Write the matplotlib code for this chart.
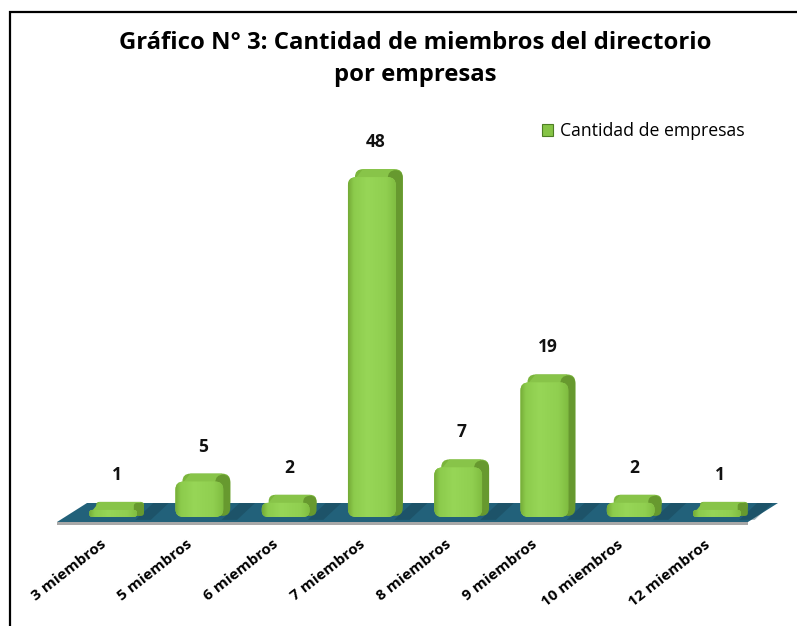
import numpy as np
import matplotlib.pyplot as plt
from matplotlib.patches import FancyBboxPatch, Polygon, Patch, Rectangle
from matplotlib.colors import LinearSegmentedColormap
from matplotlib.transforms import ScaledTranslation

# datos del gráfico
categorias = ["3 miembros", "5 miembros", "6 miembros", "7 miembros",
              "8 miembros", "9 miembros", "10 miembros", "12 miembros"]
empresas = [1, 5, 2, 48, 7, 19, 2, 1]
titulo = "Gráfico N° 3: Cantidad de miembros del directorio\npor empresas"
serie = "Cantidad de empresas"

plt.rcParams["font.family"] = ["Open Sans", "DejaVu Sans"]

W, H = 797, 626
fig = plt.figure(figsize=(W / 100, H / 100), dpi=100)

# posición del área de trazado (en píxeles)
ax_l, ax_r, ax_b, ax_t = 57.0, 773.0, 517.0, 120.5
ax = fig.add_axes([ax_l / W, 1 - ax_b / H, (ax_r - ax_l) / W, (ax_b - ax_t) / H])
x = np.arange(len(categorias))
xmin, xmax = -0.65, len(categorias) - 0.35
ymax = 56
ax.set_xlim(xmin, xmax)
ax.set_ylim(0, ymax)
sx = (ax_r - ax_l) / (xmax - xmin)   # px por unidad x
sy = (ax_b - ax_t) / ymax            # px por unidad y

# piso (plano de la base)
fy = -5 / sy
fdx, fdy = 30 / sx, 19 / sy
fx0, fx1 = xmin, len(categorias) - 1 + 0.36
ax.add_patch(Polygon([(fx0, fy - 2.5 / sy), (fx1, fy - 2.5 / sy), (fx1, fy), (fx0, fy)],
                     closed=True, fc="#A8A8A8", ec="none", clip_on=False, zorder=1))
ax.add_patch(Polygon([(fx0, fy), (fx1, fy), (fx1 + fdx, fy + fdy), (fx0 + fdx, fy + fdy)],
                     closed=True, fc="#22617A", ec="none", clip_on=False, zorder=1))

# barras
ancho = 0.555
bars = ax.bar(x, empresas, width=ancho, color="#92D050", zorder=2, label=serie)
dx, dy = 7 / sx, 8 / sy
aspecto = sx / sy
grad = LinearSegmentedColormap.from_list(
    "frente", [(0, "#74AA36"), (0.12, "#8CCB4C"), (0.4, "#97D657"),
               (0.8, "#90CF50"), (1, "#80BD41")])

for rect, v in zip(bars, empresas):
    rect.set_visible(False)
    x0 = rect.get_x()
    w = rect.get_width()
    h = rect.get_height()
    x1 = x0 + w
    r_px = min(8.0, 0.45 * h * sy)
    r = r_px / sx
    ry = r * aspecto

    # sombra sobre el piso
    ax.add_patch(Polygon([(x1 - 0.02, fy + 0.3), (x1 + 0.16, fy + 0.3),
                          (x1 + 0.16 + fdx * 0.6, fy + fdy), (x1 - 0.02 + fdx * 0.6, fy + fdy)],
                         closed=True, fc="#163F50", ec="none", alpha=0.4,
                         clip_on=False, zorder=1.5))

    # cara trasera (superior) y lateral
    atras = FancyBboxPatch((x0 + dx, dy), w, h, boxstyle=f"round,pad=0,rounding_size={r}",
                           mutation_aspect=aspecto, fc="#7BB53C", ec="none",
                           clip_on=False, zorder=2)
    ax.add_patch(atras)
    ax.add_patch(Polygon([(x0 + r, h - 0.1), (x1 - r, h - 0.1),
                          (x1 + dx - r, h + dy), (x0 + dx + r, h + dy)],
                         closed=True, fc="#88C449", ec="none", clip_on=False, zorder=2.1))
    lateral = FancyBboxPatch((x1 - r, 0.15), dx + r, h + dy - 0.3,
                             boxstyle=f"round,pad=0,rounding_size={r}",
                             mutation_aspect=aspecto, fc="#67992F", ec="none",
                             clip_on=False, zorder=2.2)
    ax.add_patch(lateral)

    # cara frontal con degradado
    frente = FancyBboxPatch((x0, 0), w, h, boxstyle=f"round,pad=0,rounding_size={r}",
                            mutation_aspect=aspecto, fc="#92D050", ec="none",
                            clip_on=False, zorder=3)
    ax.add_patch(frente)
    im = ax.imshow(np.linspace(0, 1, 256).reshape(1, -1), cmap=grad, aspect="auto",
                   extent=(x0, x1, 0, h), zorder=3.1, interpolation="bilinear")
    im.set_clip_path(frente)

    ax.annotate(f"{v}", (x0 + w / 2 + dx / 2, h + dy), xytext=(0, 27),
                textcoords="offset pixels", ha="center", va="center",
                fontsize=12.5, fontweight="bold", color="#111111")

ax.set_xlim(xmin, xmax)
ax.set_ylim(0, ymax)

# ejes
ax.set_xticks(x)
ax.set_xticklabels(categorias, rotation=38, ha="right", va="center",
                   rotation_mode="anchor", fontsize=11, fontweight="bold")
ax.tick_params(axis="x", length=0, pad=18.5)
for lbl in ax.get_xticklabels():
    lbl.set_transform(lbl.get_transform() + ScaledTranslation(-9 / 100, 0, fig.dpi_scale_trans))
ax.set_yticks([])
for s in ax.spines.values():
    s.set_visible(False)
ax.patch.set_visible(False)

# título y leyenda
fig.text(415 / W, 1 - 59 / H, titulo, ha="center", va="center",
         fontsize=17.2, fontweight="bold", linespacing=1.45)
ax.legend(handles=[Patch(fc="#86C446", ec="#4E7E24", lw=0.8)], labels=[serie],
          loc="center left", bbox_to_anchor=(542 / W, 1 - 131 / H),
          bbox_transform=fig.transFigure, frameon=False, fontsize=12.7,
          handlelength=0.65, handleheight=0.65, handletextpad=0.35,
          borderpad=0, borderaxespad=0)

# marco
fig.add_artist(Rectangle((10 / W, -0.05), 1.0, 1 - 12 / H + 0.05, transform=fig.transFigure,
                         fill=False, ec="black", lw=1.6))

fig.savefig("out.png", dpi=100)
